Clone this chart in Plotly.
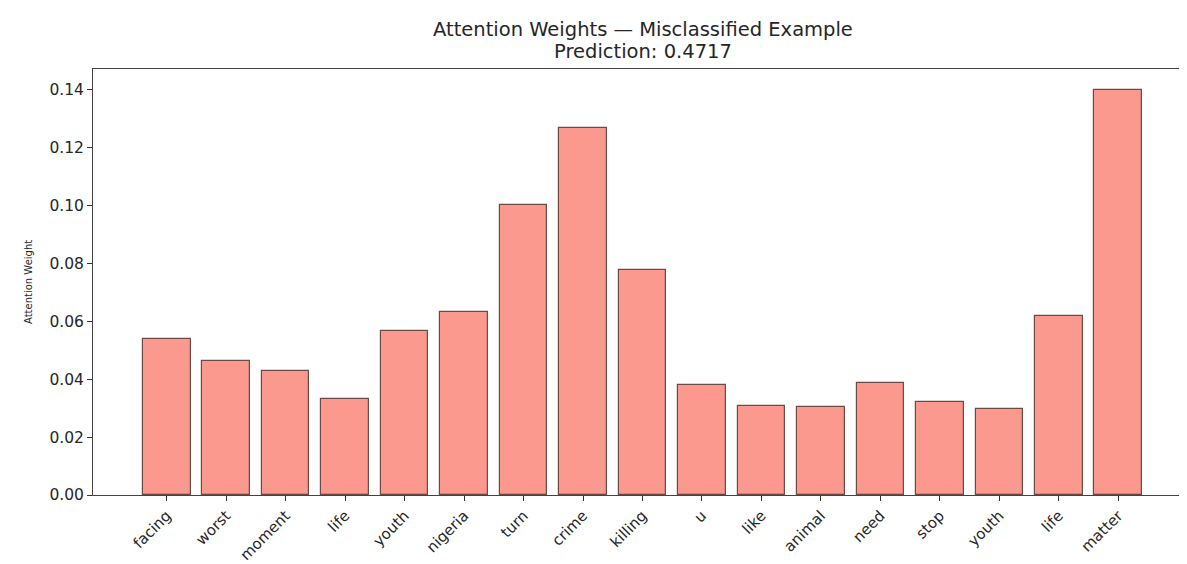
import plotly.graph_objects as go

tokens = ["facing", "worst", "moment", "life", "youth", "nigeria", "turn", "crime",
          "killing", "u", "like", "animal", "need", "stop", "youth", "life", "matter"]
weights = [0.0538, 0.0462, 0.0427, 0.0331, 0.0568, 0.0633, 0.1002, 0.1268,
           0.0777, 0.0380, 0.0307, 0.0305, 0.0388, 0.0321, 0.0297, 0.0620, 0.1401]
positions = list(range(len(tokens)))
y_ticks = [0.00, 0.02, 0.04, 0.06, 0.08, 0.10, 0.12, 0.14]

W, H = 1187, 564
L, R, T, B = 85, 3, 61, 77
pw = W - L - R

fig = go.Figure()
fig.add_trace(go.Bar(
    x=positions, y=weights, width=0.8,
    marker=dict(color="rgba(250,128,114,0.8)",
                line=dict(color="rgba(60,30,25,0.75)", width=1.2)),
))

font = "DejaVu Sans, Liberation Sans, sans-serif"
fig.update_layout(
    width=W, height=H,
    margin=dict(l=L, r=R, t=T, b=B),
    plot_bgcolor="white", paper_bgcolor="white",
    showlegend=False, bargap=0,
    font=dict(family=font, color="#262626"),
    xaxis=dict(range=[-1.24, 17.24], tickmode="array", tickvals=positions,
               ticktext=tokens, tickangle=-45, ticks="outside", ticklen=5,
               tickcolor="#333", showline=True, linecolor="#444", linewidth=1,
               mirror=True, showgrid=False, zeroline=False,
               tickfont=dict(size=15, family=font, color="#262626")),
    yaxis=dict(range=[0, 0.1472], tickmode="array", tickvals=y_ticks,
               ticktext=[f"{v:.2f}" for v in y_ticks], ticks="outside", ticklen=5,
               tickcolor="#333", showline=True, linecolor="#444", linewidth=1,
               mirror=True, showgrid=False, zeroline=False,
               tickfont=dict(size=15.5, family=font, color="#262626")),
    annotations=[
        dict(text="Attention Weights — Misclassified Example", xref="paper", yref="paper",
             x=0.5, y=1 + (T - 22) / (H - T - B), xanchor="center", yanchor="middle",
             showarrow=False, font=dict(size=19.5, family=font, color="#262626")),
        dict(text="Prediction: 0.4717", xref="paper", yref="paper",
             x=0.5, y=1 + (T - 43) / (H - T - B), xanchor="center", yanchor="middle",
             showarrow=False, font=dict(size=19.5, family=font, color="#262626")),
        dict(text="Attention Weight", xref="paper", yref="paper",
             x=(20 - L) / pw, y=0.5, xanchor="center", yanchor="middle",
             textangle=-90, showarrow=False,
             font=dict(size=10, family=font, color="#262626")),
    ],
)

fig.write_html("out.html")
